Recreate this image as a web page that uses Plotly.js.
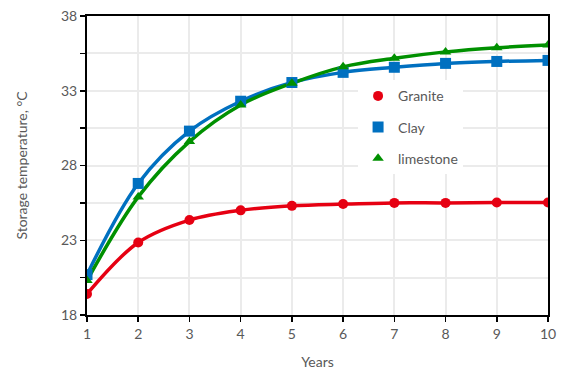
<!DOCTYPE html>
<html><head><meta charset="utf-8">
<script src="https://cdn.plot.ly/plotly-3.0.1.min.js"></script>
<style>html,body{margin:0;padding:0;background:#fff}#chart{width:563px;height:370px}</style>
</head><body><div id="chart"></div>
<script>
const years = [1,2,3,4,5,6,7,8,9,10];
const granite = [19.4,22.85,24.35,25.0,25.3,25.42,25.5,25.5,25.52,25.52];
const clay = [20.7,26.8,30.3,32.3,33.55,34.23,34.57,34.83,34.96,35.03];
const limestone = [20.3,25.9,29.6,32.05,33.5,34.6,35.17,35.6,35.88,36.06];
const names = ['Granite','Clay','limestone'];
const series = [granite, clay, limestone];
const colors = ['#e60012','#0070c0','#009000'];
const symbols = ['circle','square','triangle-up'];
const sizes = [10,11,10];

const traces = [];
series.forEach((s,i)=>{
  traces.push({x:years,y:s,mode:'lines',line:{shape:'spline',color:colors[i],width:3.5},showlegend:false,hoverinfo:'skip'});
});
series.forEach((s,i)=>{
  traces.push({x:years,y:s,mode:'markers',name:names[i],legendgroup:'g'+i,
    marker:{symbol:symbols[i],color:colors[i],size:sizes[i]}});
});

const font = {family:'Lato, "Open Sans", sans-serif',color:'#595959',size:13};
const layout = {
  width:563,height:370,
  margin:{l:87,r:15,t:16,b:55},
  paper_bgcolor:'#fff',plot_bgcolor:'#fff',
  font:font,
  showlegend:true,
  legend:{x:0.588,y:0.785,xanchor:'left',yanchor:'top',bgcolor:'#fff',
    font:{family:font.family,size:14,color:'#595959'},
    traceorder:'grouped',tracegroupgap:10,itemwidth:30},
  xaxis:{range:[1,10],tickvals:years,ticks:'outside',ticklen:5,tickcolor:'#000',tickwidth:1.5,
    showline:true,linecolor:'#000',linewidth:2,mirror:true,
    showgrid:true,gridcolor:'#ebebeb',gridwidth:2,zeroline:false,
    tickfont:{size:14,color:'#595959'},
    title:{text:'Years',font:{size:14,color:'#595959'},standoff:20}},
  yaxis:{range:[18,38],tickvals:[18,23,28,33,38],ticks:'outside',ticklen:5,tickcolor:'#000',tickwidth:1.5,
    minor:{tickvals:[20.5,25.5,30.5,35.5],ticks:'outside',ticklen:5,tickcolor:'#000',showgrid:true,gridcolor:'#ebebeb',gridwidth:2},
    showline:true,linecolor:'#000',linewidth:2,mirror:true,
    showgrid:true,gridcolor:'#ebebeb',gridwidth:2,zeroline:false,
    tickfont:{size:14,color:'#595959'},
    title:{text:'Storage temperature, °C',font:{size:14,color:'#595959'},standoff:30}}
};
Plotly.newPlot('chart',traces,layout,{displayModeBar:false,staticPlot:true});
</script></body></html>
